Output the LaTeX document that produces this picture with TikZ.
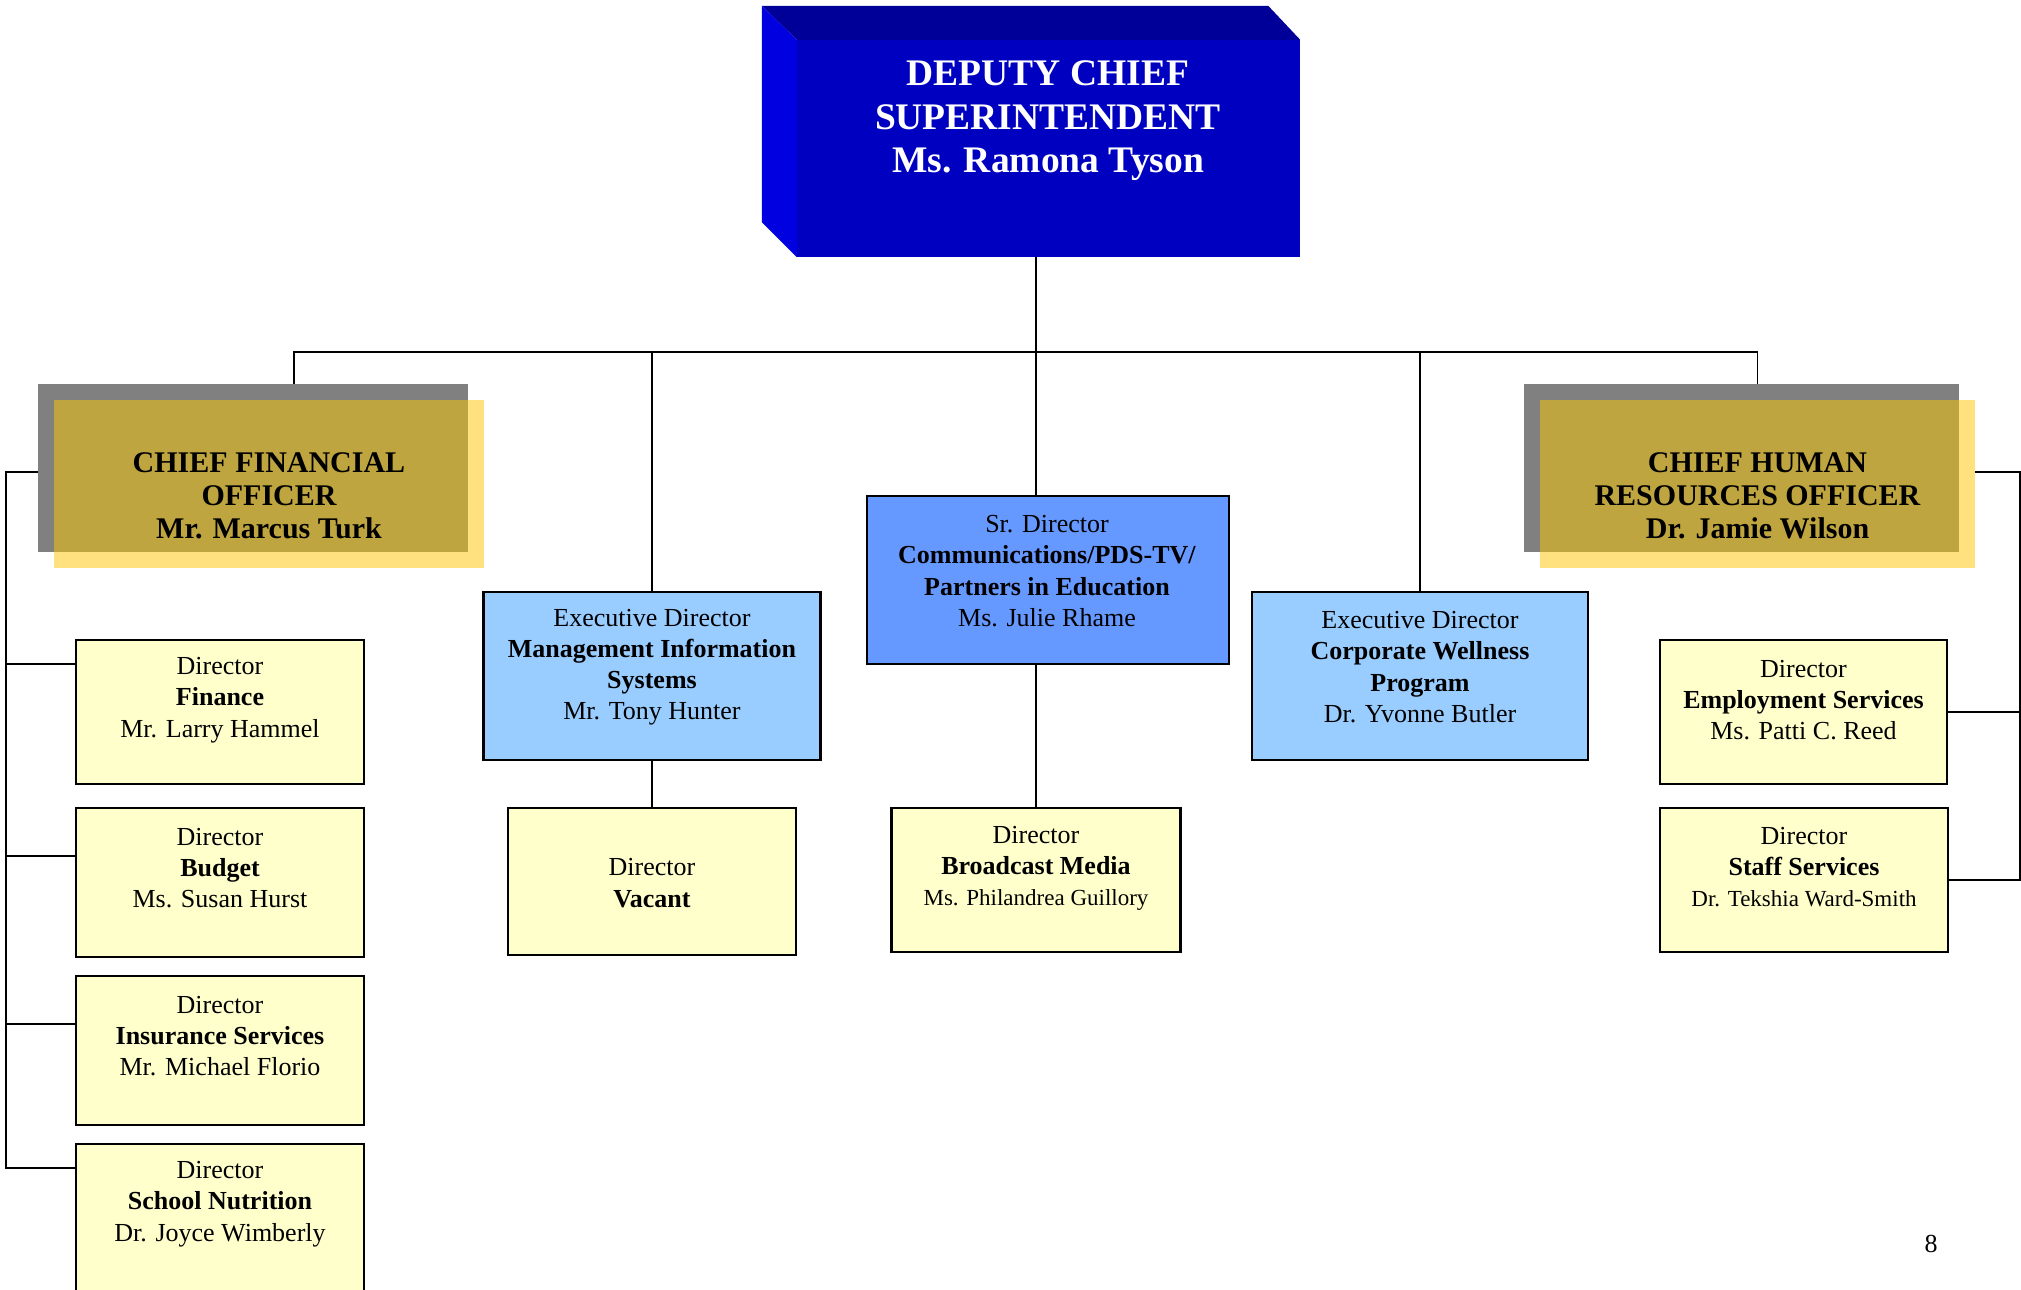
\documentclass[tikz,border=0pt]{standalone}
\usepackage{fontspec}
\setmainfont{Liberation Serif}
\usetikzlibrary{calc}
\pgfdeclarelayer{bg}
\pgfsetlayers{bg,main}
\definecolor{topblue}{HTML}{000099}
\definecolor{frontblue}{HTML}{0000C0}
\definecolor{sideblue}{HTML}{0000E0}
\definecolor{shadowgray}{HTML}{808080}
\definecolor{chiefyellow}{HTML}{FFE17F}
\definecolor{chiefolive}{HTML}{BFA53F}
\definecolor{lightblue}{HTML}{99CCFF}
\definecolor{midblue}{HTML}{6699FF}
\definecolor{paleyellow}{HTML}{FFFFCC}
\tikzset{
  box/.style={draw=black, line width=2.3pt, inner sep=0pt, rectangle},
  dirbox/.style={box, fill=paleyellow},
  exbox/.style={box, fill=lightblue},
  srbox/.style={box, fill=midblue},
  link/.style={draw=black, line width=1.8pt},
  txt/.style={align=center, inner sep=0pt, font=\fontsize{26}{31.2}\selectfont},
  titletxt/.style={align=center, inner sep=0pt, text=white, font=\fontsize{37.5}{43.5}\selectfont\bfseries},
  chieftxt/.style={align=center, inner sep=0pt, font=\fontsize{30}{33}\selectfont\bfseries},
  plain/.style={inner sep=0pt, draw=none}
}
\begin{document}
\begin{tikzpicture}[x=1pt,y=-1pt]
\useasboundingbox (0,0) rectangle (2021,1290);
\clip (0,0) rectangle (2021,1290);

% ---------- coordinates for connectors ----------
\coordinate (busL) at (294,352);
\coordinate (busR) at (1757.5,352);
\coordinate (cfodrop) at (294,384);
\coordinate (L1) at (6,472);
\coordinate (R1) at (2020,472);

% ---------- top box (3D) ----------
\node[plain, fill=frontblue, minimum width=503pt, minimum height=217pt] (top) at (1048.5,148.5) {};
\fill[topblue] ($(top.north west)+(-35,-34)$) -- ($(top.north east)+(-32,-34)$) -- (top.north east) -- (top.north west) -- cycle;
\fill[sideblue] ($(top.north west)+(-35,-34)$) -- (top.north west) -- (top.south west) -- ($(top.south west)+(-35,-35)$) -- cycle;
\node[titletxt] (toptext) at (1048,121) {DEPUTY CHIEF\\SUPERINTENDENT\\Ms. Ramona Tyson};

% ---------- chief boxes ----------
\node[plain, fill=shadowgray, minimum width=430pt, minimum height=168pt] (cfog) at (253,468) {};
\node[plain, fill=chiefyellow, minimum width=430pt, minimum height=168pt] (cfoy) at (269,484) {};
\fill[chiefolive] (cfoy.north west) rectangle (cfog.south east);
\node[chieftxt] (cfotext) at (269,495.5) {CHIEF FINANCIAL\\OFFICER\\Mr. Marcus Turk};

\node[plain, fill=shadowgray, minimum width=435pt, minimum height=168pt] (chrog) at (1741.5,468) {};
\node[plain, fill=chiefyellow, minimum width=435pt, minimum height=168pt] (chroy) at (1757.5,484) {};
\fill[chiefolive] (chroy.north west) rectangle (chrog.south east);
\node[chieftxt] (chrotext) at (1757.5,495.5) {CHIEF HUMAN\\RESOURCES OFFICER\\Dr. Jamie Wilson};

% ---------- executive boxes ----------
\node[exbox, minimum width=337pt, minimum height=168pt] (mis) at (652,676) {};
\node[txt] (mistext) at (652,667) {Executive Director\\\textbf{Management Information}\\\textbf{Systems}\\Mr. Tony Hunter};
\node[srbox, minimum width=361.5pt, minimum height=168pt] (sr) at (1048,580) {};
\node[txt] (srtext) at (1047,571) {Sr. Director\\\textbf{Communications/PDS-TV/}\\\textbf{Partners in Education}\\Ms. Julie Rhame};
\node[exbox, minimum width=336pt, minimum height=168pt] (wel) at (1420,676) {};
\node[txt] (weltext) at (1420,667) {Executive Director\\\textbf{Corporate Wellness}\\\textbf{Program}\\Dr. Yvonne Butler};

% ---------- director boxes ----------
\node[dirbox, minimum width=288pt, minimum height=144pt] (fin) at (220,712) {};
\node[txt] (fintext) at (220,700) {Director\\\textbf{Finance}\\Mr. Larry Hammel};
\node[dirbox, minimum width=288pt, minimum height=149pt] (bud) at (220,882.5) {};
\node[txt] (budtext) at (220,868) {Director\\\textbf{Budget}\\Ms. Susan Hurst};
\node[dirbox, minimum width=288pt, minimum height=149pt] (ins) at (220,1050.5) {};
\node[txt] (instext) at (220,1036) {Director\\\textbf{Insurance Services}\\Mr. Michael Florio};
\node[dirbox, minimum width=288pt, minimum height=170pt] (nut) at (220,1229) {};
\node[txt] (nuttext) at (220,1204) {Director\\\textbf{School Nutrition}\\Dr. Joyce Wimberly};

\node[dirbox, minimum width=288pt, minimum height=147pt] (vac) at (652,881.5) {};
\node[txt] (vactext) at (652,883) {Director\\\textbf{Vacant}};
\node[dirbox, minimum width=289pt, minimum height=144pt] (brd) at (1036,880) {};
\node[txt] (brdtext) at (1036,868.5) {Director\\\textbf{Broadcast Media}\\{\fontsize{23}{31.2}\selectfont Ms. Philandrea Guillory}};
\node[dirbox, minimum width=287pt, minimum height=144pt] (emp) at (1803.5,712) {};
\node[txt] (emptext) at (1803.5,700) {Director\\\textbf{Employment Services}\\Ms. Patti C. Reed};
\node[dirbox, minimum width=288pt, minimum height=144pt] (stf) at (1804,880) {};
\node[txt] (stftext) at (1804,867) {Director\\\textbf{Staff Services}\\{\fontsize{23}{31.2}\selectfont Dr. Tekshia Ward-Smith}};

% ---------- page number ----------
\node[txt] (pg) at (1931,1244) {8};

% ---------- connectors (behind the boxes) ----------
\begin{pgfonlayer}{bg}
\draw[link] (cfodrop) -- (busL) -- (busR) -- (busR |- chrog.north);
\draw[link] (top.south -| brd.north) -- (sr.north -| brd.north);
\draw[link] (mis.north) -- (mis.north |- busL);
\draw[link] (wel.north) -- (wel.north |- busL);
\draw[link] (mis.south) -- (mis.south |- vac.north);
\draw[link] (sr.south -| brd.north) -- (brd.north);
\draw[link] ([yshift=12pt]cfoy.west) -- (L1) -- (L1 |- 0,1168) -- (nut.west |- 0,1168);
\draw[link] (L1 |- 0,664) -- (fin.west |- 0,664);
\draw[link] (L1 |- 0,856) -- (bud.west |- 0,856);
\draw[link] (L1 |- 0,1024) -- (ins.west |- 0,1024);
\draw[link] ([yshift=12pt]chroy.east) -- (R1) -- (R1 |- stf.east) -- (stf.east);
\draw[link] (emp.east) -- (emp.east -| R1);
\end{pgfonlayer}
\end{tikzpicture}
\end{document}
